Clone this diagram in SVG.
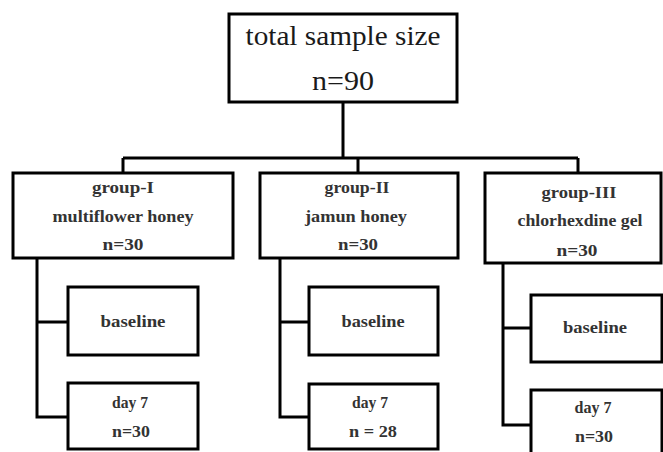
<svg xmlns="http://www.w3.org/2000/svg" width="663" height="452" viewBox="0 0 663 452">
<style>
.box{fill:#fff;stroke:#000;stroke-width:3}
.con{fill:none;stroke:#000;stroke-width:3}
.t{font-family:"Liberation Serif","Times New Roman",serif;text-anchor:middle}
.big{font-size:28px;fill:#1a1a1a}
.sm{font-size:17px;font-weight:bold;fill:#333}
</style>
<rect width="663" height="452" fill="#fff"/>
<g id="connectors">
<path class="con" d="M343 102V158M123 158H578M123 158V173M358 158V173M578 158V173"/>
<path class="con" d="M37 258V417H68M37 322H68"/>
<path class="con" d="M280 258V417H309M280 322H309"/>
<path class="con" d="M503 263V425H531M503 328H531"/>
</g>
<g id="total">
<rect class="box" x="229" y="14" width="228" height="88"/>
<text class="t big" x="343" y="45" textLength="195" lengthAdjust="spacingAndGlyphs">total sample size</text>
<text class="t big" x="343" y="90" textLength="62" lengthAdjust="spacingAndGlyphs">n=90</text>
</g>
<g id="group1">
<rect class="box" x="13" y="173" width="220" height="85"/>
<text class="t sm" x="123" y="193" textLength="62" lengthAdjust="spacingAndGlyphs">group-I</text>
<text class="t sm" x="123" y="222" textLength="141" lengthAdjust="spacingAndGlyphs">multiflower honey</text>
<text class="t sm" x="123" y="250" textLength="41" lengthAdjust="spacingAndGlyphs">n=30</text>
</g>
<g id="group2">
<rect class="box" x="260" y="173" width="198" height="85"/>
<text class="t sm" x="357" y="193" textLength="65" lengthAdjust="spacingAndGlyphs">group-II</text>
<text class="t sm" x="356" y="222" textLength="102" lengthAdjust="spacingAndGlyphs">jamun honey</text>
<text class="t sm" x="358" y="250" textLength="40" lengthAdjust="spacingAndGlyphs">n=30</text>
</g>
<g id="group3">
<rect class="box" x="485" y="173" width="176" height="90"/>
<text class="t sm" x="579" y="198" textLength="75" lengthAdjust="spacingAndGlyphs">group-III</text>
<text class="t sm" x="580" y="226" textLength="125" lengthAdjust="spacingAndGlyphs">chlorhexdine gel</text>
<text class="t sm" x="577" y="256" textLength="41" lengthAdjust="spacingAndGlyphs">n=30</text>
</g>
<g id="baseline1">
<rect class="box" x="68" y="287" width="130" height="68"/>
<text class="t sm" x="133" y="327" textLength="65" lengthAdjust="spacingAndGlyphs">baseline</text>
</g>
<g id="day7-1">
<rect class="box" x="68" y="383" width="130" height="66"/>
<text class="t sm" x="130" y="408" textLength="36" lengthAdjust="spacingAndGlyphs">day 7</text>
<text class="t sm" x="131" y="437" textLength="38" lengthAdjust="spacingAndGlyphs">n=30</text>
</g>
<g id="baseline2">
<rect class="box" x="309" y="287" width="129" height="68"/>
<text class="t sm" x="373" y="327" textLength="63" lengthAdjust="spacingAndGlyphs">baseline</text>
</g>
<g id="day7-2">
<rect class="box" x="309" y="384" width="129" height="65"/>
<text class="t sm" x="370" y="408" textLength="36" lengthAdjust="spacingAndGlyphs">day 7</text>
<text class="t sm" x="373" y="437" textLength="48" lengthAdjust="spacingAndGlyphs">n = 28</text>
</g>
<g id="baseline3">
<rect class="box" x="531" y="295" width="131" height="67"/>
<text class="t sm" x="595" y="333" textLength="64" lengthAdjust="spacingAndGlyphs">baseline</text>
</g>
<g id="day7-3">
<rect class="box" x="531" y="390" width="131" height="80"/>
<text class="t sm" x="593" y="413" textLength="37" lengthAdjust="spacingAndGlyphs">day 7</text>
<text class="t sm" x="594" y="442" textLength="38" lengthAdjust="spacingAndGlyphs">n=30</text>
</g>
</svg>
